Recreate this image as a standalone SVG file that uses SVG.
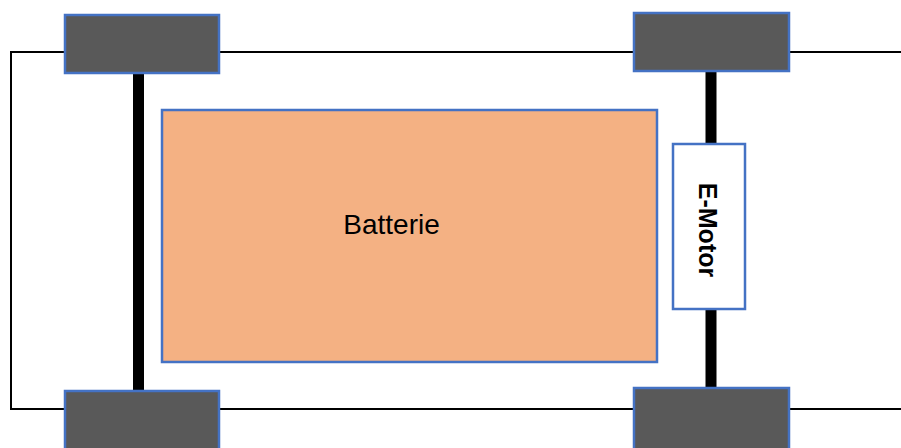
<svg xmlns="http://www.w3.org/2000/svg" width="901" height="448" viewBox="0 0 901 448">
  <style>
    .wheel { fill: #595959; stroke: #4472C4; stroke-width: 2.5; }
    .frame { fill: none; stroke: #000000; stroke-width: 2; }
    .axle { stroke: #000000; stroke-width: 11; fill: none; }
    .label { font-family: "Liberation Sans", Arial, sans-serif; fill: #000000; }
  </style>
  <rect width="901" height="448" fill="#FFFFFF"/>
  <g id="frame">
    <rect class="frame" x="11" y="52" width="1000" height="357"/>
  </g>
  <g id="connectors">
    <line class="axle" x1="138.5" y1="72" x2="138.5" y2="392"/>
    <line class="axle" x1="711" y1="70" x2="711" y2="389"/>
  </g>
  <g id="wheel-front-left">
    <rect class="wheel" x="65" y="15" width="154" height="58"/>
  </g>
  <g id="wheel-rear-left">
    <rect class="wheel" x="65" y="391" width="154" height="60"/>
  </g>
  <g id="wheel-front-right">
    <rect class="wheel" x="634" y="13" width="155" height="58"/>
  </g>
  <g id="wheel-rear-right">
    <rect class="wheel" x="634" y="388" width="155" height="62"/>
  </g>
  <g id="batterie">
    <rect x="162" y="110" width="495" height="252" fill="#F4B183" stroke="#4472C4" stroke-width="2.5"/>
    <text class="label" x="391.5" y="234" font-size="28" text-anchor="middle">Batterie</text>
  </g>
  <g id="e-motor">
    <rect x="673" y="144" width="72" height="165" fill="#FFFFFF" stroke="#4472C4" stroke-width="2.5"/>
    <text class="label" transform="translate(699,230) rotate(90)" x="0" y="0" font-size="25" font-weight="bold" text-anchor="middle">E-Motor</text>
  </g>
</svg>
